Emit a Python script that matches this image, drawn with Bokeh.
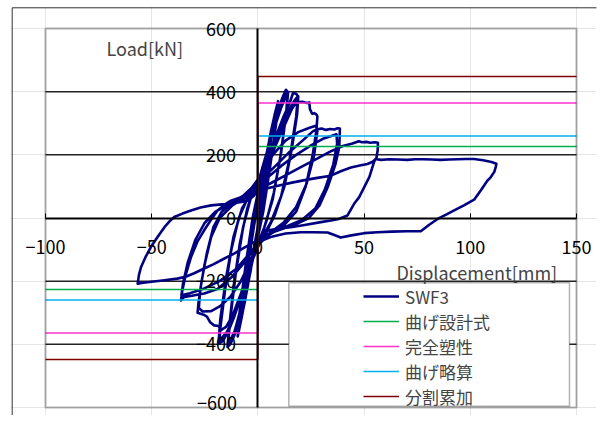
from bokeh.plotting import figure
from bokeh.models import Range1d, LinearAxis, FixedTicker, BoxAnnotation, Legend, LegendItem, Label
from bokeh.embed import file_html
from bokeh.resources import INLINE

# ---------------- data ----------------
disp = [
    0, 1.5, 3.5, 5, 6.2, 5.6, 3.6, 1.6, 0, -1.8, -3.8, -5.2, -6.3, -5.7, -3.8, -1.7, 0,
    2, 4, 6, 5.4, 3, 0.8, -1.2, -3.5, -6, -5.3, -3, -0.8, 0.5,
    3, 6, 8, 9.5, 8.8, 6, 3, 0.5, -2, -5, -7.5, -9.5, -8.8, -6, -3, -0.5,
    2.5, 5.5, 9.3, 8.6, 5.5, 2.5, 0, -3, -6, -9.3, -8.6, -5.8, -2.5, 0,
    3, 6, 9, 11.5, 13.2, 14.2, 13.5, 11, 7.5, 4, 1, -2, -5, -8, -11, -13, -14.3, -13.6, -11.5, -8.5, -5, -2, 0,
    3, 7, 11, 14, 13.3, 10.5, 7, 3, 0, -3, -7, -11, -14, -13.2, -10.5, -7, -3.5, 0,
    4, 8, 12, 15, 16.5, 17.9, 19, 18.5, 16, 12.5, 8, 4, 0.5, -3, -7, -11, -14, -16.5, -18.2, -17.6, -15.5, -12.5, -9, -5, -1.5,
    3, 8, 13, 17, 18.8, 18, 15, 11, 6, 2, -1, -5, -10, -14.5, -18.5, -17.7, -15, -11.5, -7.5, -3,
    0, 4, 9, 13, 16, 18, 21, 23, 24.2, 24.5, 25.5, 26.5, 27.5, 28, 27.6, 25.8, 22.5, 18, 12, 6, 2, -1, -4, -8, -12, -15,
    -17.4, -18.5, -20.6, -22.5, -24, -25.5, -27, -28.4, -28, -26.5, -24, -21, -17, -12, -7, -3,
    2, 7, 13, 19, 24, 27.3, 28, 26.5, 23, 18, 12, 6, 1, -3, -8, -13, -18, -22, -26, -27.8, -27.2, -25.2, -22, -18, -12, -6, -2,
    3, 9, 15, 21, 26, 28, 30, 32, 34, 36, 37.5, 38.6, 38.5, 38.3, 36.5, 33, 29, 24, 17, 10, 4, 0, -5, -12, -19, -25.3,
    -28, -31, -34.7, -36.2, -35.6, -34, -31.5, -28.5, -25.3, -22, -19, -15.5, -12.7, -7, -2,
    4, 11, 18, 25, 31, 37, 37.3, 35.5, 31.5, 27, 21, 14, 7, 2, -3, -10, -18, -26, -32, -36, -35.2, -33, -29.5, -25, -20, -14, -8, -3,
    0, 6, 13, 20, 27, 34, 40, 44.5, 47.5, 49, 51, 53, 55, 56.5, 56.4, 55.8, 54.8, 52.5, 50, 47.7, 45.3, 42.2, 38, 34.4, 29.6,
    22, 15.5, 9, 4.6, 1.5, 0,
    -6, -11, -16, -21, -25.3, -30, -34, -38, -44, -50, -54, -56.6, -56, -55, -53, -50.4, -47, -44, -41.5, -39.4, -35.5,
    -31.5, -27, -22, -17, -12.7, -8.5, -4.8, -2,
    0, 5, 10, 16, 22, 28, 34.4, 39, 43.8, 48, 51.6, 54, 55.5, 57.9, 62, 66, 70.4, 74, 78, 82, 86, 90, 94, 98, 101.8,
    106, 110, 112.3, 112, 111.3, 109.5, 108, 105, 101.8, 97, 92.4, 89.3, 84.6, 80.5, 76.7, 70, 63, 56.3, 50, 44, 39,
    36, 32.8, 26, 20.2, 13, 6, 2.5, 1,
]
load = [
    0, 60, 160, 220, 255, 205, 110, 25, -30, -90, -170, -225, -262, -205, -110, -20, 40,
    110, 190, 250, 195, 80, 0, -70, -170, -250, -190, -70, 20, 70,
    160, 270, 330, 370, 310, 180, 50, -40, -110, -220, -310, -375, -310, -170, -30, 60,
    150, 250, 365, 300, 150, 20, -60, -150, -260, -365, -295, -150, 0, 80,
    170, 260, 330, 380, 406, 398, 340, 210, 80, -10, -70, -120, -210, -300, -370, -400, -408, -350, -220, -80, 30, 90, 110,
    180, 270, 350, 400, 330, 190, 60, -30, -80, -140, -260, -360, -400, -330, -180, -30, 60, 100,
    170, 250, 320, 365, 395, 394, 385, 330, 220, 100, 10, -45, -85, -140, -230, -310, -360, -390, -397, -345, -230, -100, 0, 60, 100,
    150, 240, 320, 370, 385, 320, 190, 70, -15, -60, -95, -190, -290, -360, -392, -320, -190, -60, 30, 80,
    100, 160, 240, 300, 345, 366, 368, 364, 366, 345, 330, 332, 328, 322, 280, 200, 100, 20, -25, -50, -70, -90, -150, -240, -310, -345,
    -355, -342, -340, -330, -312, -306, -303, -300, -270, -200, -110, -30, 20, 50, 70, 95,
    140, 200, 245, 272, 285, 292, 275, 200, 110, 35, -15, -45, -75, -130, -200, -250, -280, -295, -296, -285, -230, -150, -60, 0, 40, 65, 90,
    130, 170, 210, 245, 275, 281, 283, 279, 282, 280, 284, 283, 260, 224, 170, 100, 40, 0, -22, -38, -52, -75, -130, -185, -225, -239,
    -242, -246, -250, -261, -230, -180, -124, -75, -39, -5, 24, 43, 55, 68, 85,
    125, 165, 200, 230, 252, 265, 235, 170, 90, 30, -5, -25, -42, -62, -105, -160, -200, -225, -238, -245, -205, -140, -70, -15, 20, 42, 55, 75,
    90, 110, 135, 160, 185, 210, 228, 236, 243, 240, 241, 238, 240, 238, 215, 190, 180, 130, 97, 66, 45, 8, -3, -8, -13,
    -22, -29, -34, -40, -55, -70,
    -92, -112, -129, -147, -160, -175, -186, -192, -197, -202, -205, -208, -180, -155, -125, -92, -58, -29, -10, 3, 14,
    24, 33, 40, 43, 46, 50, 55, 70,
    85, 95, 103, 112, 120, 127, 134, 148, 160, 166, 171, 178, 187, 184, 186, 185, 184, 186, 186, 185, 184, 185, 186, 187, 187,
    183, 177, 172, 162, 146, 128, 118, 88, 58, 40, 24, 13, -3, -22, -42, -42, -43, -45, -48, -55, -62,
    -54, -46, -45, -45, -49, -60, -70, -80,
]

# reference strengths [kN]
ref_names = ["曲げ設計式", "完全塑性", "曲げ略算", "分割累加"]
ref_values = [226, 364, 260, 448]
ref_colors = ["#00b050", "#ff33cc", "#00b0f0", "#800000"]

x_lo, x_hi = -100, 150
y_lo, y_hi = -600, 600
x_ticks = [-100, -50, 0, 50, 100, 150]
y_ticks = [-600, -400, -200, 0, 200, 400, 600]
grid_ticks = [-400, -200, 200, 400]

FONT = "Noto Sans CJK JP"

# ---------------- layout (pixels) ----------------
W, H = 598, 415
FR_L, FR_R, FR_T, FR_B = 10, 596, 6, 415        # frame in canvas px
PA_L, PA_R, PA_T, PA_B = 45, 576, 28, 407       # plot area in canvas px
sx = (PA_R - PA_L) / (x_hi - x_lo)
sy = (PA_B - PA_T) / (y_hi - y_lo)
xr = Range1d(x_lo - (PA_L - FR_L) / sx, x_hi + (FR_R - PA_R) / sx)
yr = Range1d(y_lo - (FR_B - PA_B) / sy, y_hi + (PA_T - FR_T) / sy)

def dx(px):
    return x_lo + (px - PA_L) / sx

def dy(py):
    return y_hi - (py - PA_T) / sy

p = figure(width=W, height=H, x_range=xr, y_range=yr,
           output_backend="svg", toolbar_location=None,
           x_axis_location=None, y_axis_location=None,
           min_border_left=FR_L, min_border_right=W - FR_R,
           min_border_top=FR_T, min_border_bottom=H - FR_B)
p.outline_line_color = None
p.background_fill_color = "white"
p.border_fill_color = "white"

# outer chart border (left and top edges)
p.segment(x0=[dx(11.7), dx(11.7)], y0=[dy(7.3), dy(7.3)], x1=[dx(11.7), dx(620)], y1=[dy(440), dy(7.3)],
          line_color="#333333", line_width=1)

# horizontal grid lines
p.segment(x0=x_lo, x1=x_hi, y0=grid_ticks, y1=grid_ticks, line_color="#222222", line_width=1.5)

xaxis = LinearAxis(fixed_location=0, ticker=FixedTicker(ticks=x_ticks), bounds=(x_lo, x_hi))
xaxis.axis_line_width = 2
xaxis.major_tick_in = 5
xaxis.major_tick_out = 0
xaxis.minor_tick_line_color = None
xaxis.major_label_standoff = 22
xaxis.major_label_text_font = FONT
xaxis.major_label_text_font_size = "18px"
xaxis.major_label_text_color = "black"
p.add_layout(xaxis, "below")

# the bottom-most y label is drawn separately so that it stays inside the canvas
yaxis = LinearAxis(fixed_location=0, ticker=FixedTicker(ticks=y_ticks[1:]), bounds=(y_lo, y_hi))
yaxis.axis_line_width = 2
yaxis.major_tick_in = 0
yaxis.major_tick_out = 0
yaxis.minor_tick_line_color = None
yaxis.major_label_standoff = 22
yaxis.major_label_text_font = FONT
yaxis.major_label_text_font_size = "18px"
yaxis.major_label_text_color = "black"
p.add_layout(yaxis, "left")
p.add_layout(Label(x=0, y=y_ticks[0], x_offset=-21, y_offset=5,
                   text="\u2212" + str(abs(y_ticks[0])), text_align="right", text_baseline="middle",
                   text_font=FONT, text_font_size="18px", text_color="black"))

main = p.line(disp, load, line_color="#000080", line_width=2.6, line_join="round")

items = [LegendItem(label="SWF3", renderers=[main])]
for name, v, c in zip(ref_names, ref_values, ref_colors):
    r = p.line([x_lo, 0, 0, x_hi], [-v, -v, v, v], line_color=c, line_width=1.5)
    items.append(LegendItem(label=name, renderers=[r]))

# plot-area border
p.add_layout(BoxAnnotation(left=x_lo, right=x_hi, bottom=y_lo, top=y_hi,
                           fill_alpha=0, line_color="black", line_width=2))
# legend frame
p.add_layout(BoxAnnotation(left=dx(288.3), right=dx(569), top=dy(282.3), bottom=dy(405.7),
                           fill_color="white", fill_alpha=1,
                           line_color="black", line_width=1.5))

legend = Legend(items=items, location=(363 - FR_L, FR_B - 408.5), orientation="vertical",
                background_fill_alpha=0, border_line_alpha=0, padding=0, margin=0,
                glyph_width=36, glyph_height=16, label_height=16, spacing=0,
                label_standoff=6, label_text_font=FONT, label_text_font_size="17px")
p.add_layout(legend, "center")

p.add_layout(Label(x=dx(106), y=dy(47.7), text="Load[kN]", text_baseline="middle",
                   text_font=FONT, text_font_size="18px"))
p.add_layout(Label(x=dx(556.7), y=dy(271), text="Displacement[mm]", text_baseline="middle",
                   text_align="right", text_font=FONT, text_font_size="18px"))

open("out.html", "w").write(file_html(p, INLINE))
